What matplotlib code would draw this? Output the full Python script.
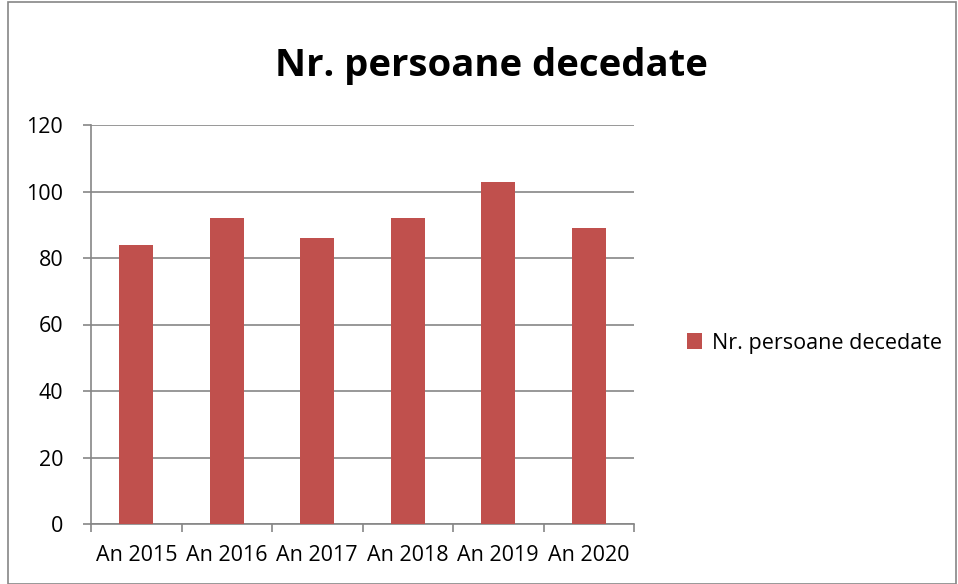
import numpy as np
import matplotlib.pyplot as plt
from matplotlib.patches import Rectangle

years = ["An 2015", "An 2016", "An 2017", "An 2018", "An 2019", "An 2020"]
deaths = [84, 92, 86, 92, 103, 89]
series_name = "Nr. persoane decedate"

plt.rcParams['font.family'] = ['Open Sans', 'DejaVu Sans']

fig = plt.figure(figsize=(9.58, 5.84), dpi=100)
ax = fig.add_axes([91 / 958, 60 / 584, 543 / 958, 399 / 584])

x = np.arange(len(years))
bars = ax.bar(x, deaths, width=0.38, color='#C0504D', label=series_name, zorder=3)

ax.set_xlim(-0.5, len(years) - 0.5)
ax.set_ylim(0, 120)
ax.set_yticks(np.arange(0, 121, 20))
ax.yaxis.grid(True, color='#868686', linewidth=1.2, zorder=0)

ax.set_xticks(x)
ax.set_xticklabels(years, fontsize=15.5)
ax.set_xticks(np.arange(-0.5, len(years)), minor=True)
ax.tick_params(axis='x', which='major', length=0, pad=15)
ax.tick_params(axis='x', which='minor', length=6, color='#868686', width=1.2)
ax.tick_params(axis='y', length=6, color='#868686', width=1.2, labelsize=15.5, pad=14)

for side in ['top', 'right']:
    ax.spines[side].set_visible(False)
for side in ['left', 'bottom']:
    ax.spines[side].set_color('#868686')
    ax.spines[side].set_linewidth(1.2)

fig.text(491 / 958, 1 - 66 / 584, "Nr. persoane decedate", ha='center', va='center',
         fontsize=27.5, fontweight='bold')

fig.legend(handles=[bars], labels=[series_name], loc='center left',
           bbox_to_anchor=(668 / 958, 1 - 343 / 584), frameon=False, fontsize=15.5,
           handlelength=0.7, handleheight=0.7, handletextpad=0.45)

fig.patches.append(Rectangle((8 / 958, 0.5 / 584), 948 / 958, 582 / 584,
                             transform=fig.transFigure, fill=False,
                             edgecolor='#868686', linewidth=1.2))

plt.savefig("out.png", dpi=100)
